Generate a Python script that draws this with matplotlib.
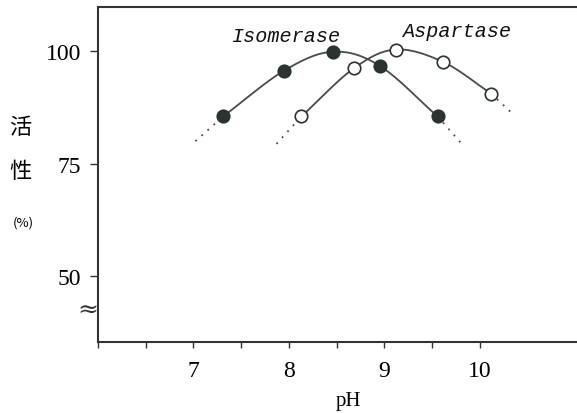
import numpy as np
import matplotlib
matplotlib.use("Agg")
import matplotlib.pyplot as plt

# ---- data ----
iso_ph = [7.31, 7.95, 8.46, 8.95, 9.56]
iso_act = [85.5, 95.7, 99.9, 96.8, 85.5]
asp_ph = [8.13, 8.68, 9.12, 9.62, 10.12]
asp_act = [85.5, 96.2, 100.4, 97.6, 90.6]
# dotted extensions (end points beyond measured range)
iso_ext_left = (7.02, 80.0)
iso_ext_right = (9.82, 79.2)
asp_ext_left = (7.87, 79.4)
asp_ext_right = (10.35, 86.0)

xticks_major = [7, 8, 9, 10]
xticks_all = [6, 6.5, 7, 7.5, 8, 8.5, 9, 9.5, 10]
yticks = [50, 75, 100]

dark = "#2b332f"
linec = "#4a4a4a"


def catmull(xs, ys, n=30):
    xs = np.asarray(xs, float)
    ys = np.asarray(ys, float)
    P = np.column_stack([xs, ys])
    P = np.vstack([2 * P[0] - P[1], P, 2 * P[-1] - P[-2]])
    out = []
    t = np.linspace(0, 1, n)[:, None]
    for i in range(1, len(P) - 2):
        p0, p1, p2, p3 = P[i - 1], P[i], P[i + 1], P[i + 2]
        seg = 0.5 * ((2 * p1) + (-p0 + p2) * t + (2 * p0 - 5 * p1 + 4 * p2 - p3) * t ** 2
                     + (-p0 + 3 * p1 - 3 * p2 + p3) * t ** 3)
        out.append(seg)
    out = np.vstack(out)
    return out[:, 0], out[:, 1]


fig = plt.figure(figsize=(5.77, 4.14), dpi=100)
ax = fig.add_axes([0.170, 0.1715, 0.830, 0.8095])
ax.set_xlim(6, 11.02)
ax.set_ylim(35.3, 109.9)

for phs, acts, el, er, face in [
    (iso_ph, iso_act, iso_ext_left, iso_ext_right, dark),
    (asp_ph, asp_act, asp_ext_left, asp_ext_right, "white"),
]:
    cx, cy = catmull(phs, acts)
    ax.plot(cx, cy, color=linec, lw=1.3, zorder=2)
    ax.plot([el[0], phs[0]], [el[1], acts[0]], color=linec, lw=1.3,
            linestyle=(0, (1, 3.5)), zorder=2)
    ax.plot([phs[-1], er[0]], [acts[-1], er[1]], color=linec, lw=1.3,
            linestyle=(0, (1, 3.5)), zorder=2)
    ax.plot(phs, acts, "o", ms=9, mfc=face, mec=dark, mew=1.2, zorder=3)

ax.text(7.97, 102.2, "Isomerase", fontfamily="Liberation Mono", style="italic",
        fontsize=14.5, ha="center", va="baseline", color="#111")
ax.text(9.755, 103.5, "Aspartase", fontfamily="Liberation Mono", style="italic",
        fontsize=14.5, ha="center", va="baseline", color="#111")

for s in ["left", "top", "bottom"]:
    ax.spines[s].set_linewidth(1.5)
    ax.spines[s].set_color("#333")
ax.spines["right"].set_visible(False)

ax.set_xticks(xticks_all)
ax.set_xticklabels([str(int(v)) if v in xticks_major else "" for v in xticks_all],
                   fontfamily="Liberation Serif", fontsize=17)
ax.set_yticks(yticks)
ax.set_yticklabels([str(v) for v in yticks], fontfamily="Liberation Serif", fontsize=17)
ax.tick_params(axis="x", direction="out", length=4, width=1, color="#333", pad=9)
ax.tick_params(axis="y", direction="out", length=6, width=1, color="#333", pad=6)

fig.text(348 / 577, 1 - 402 / 414, "pH", fontfamily="Liberation Serif", fontsize=15,
         ha="center", va="center")

# vertical CJK label
cjk = ["Noto Sans CJK JP", "DejaVu Sans"]
fig.text(20 / 577, 1 - 127 / 414, "活", fontfamily=cjk, fontsize=16, ha="center", va="center")
fig.text(20 / 577, 1 - 172 / 414, "性", fontfamily=cjk, fontsize=16, ha="center", va="center")
fig.text(23 / 577, 1 - 223 / 414, "(%)", fontfamily=cjk, fontsize=9.5, ha="center", va="center")

# axis break mark
fig.text(88 / 577, 1 - 311 / 414, "≈", fontfamily="DejaVu Serif", fontsize=18,
         ha="center", va="center", color="#333")

fig.savefig("out.png", dpi=100)
